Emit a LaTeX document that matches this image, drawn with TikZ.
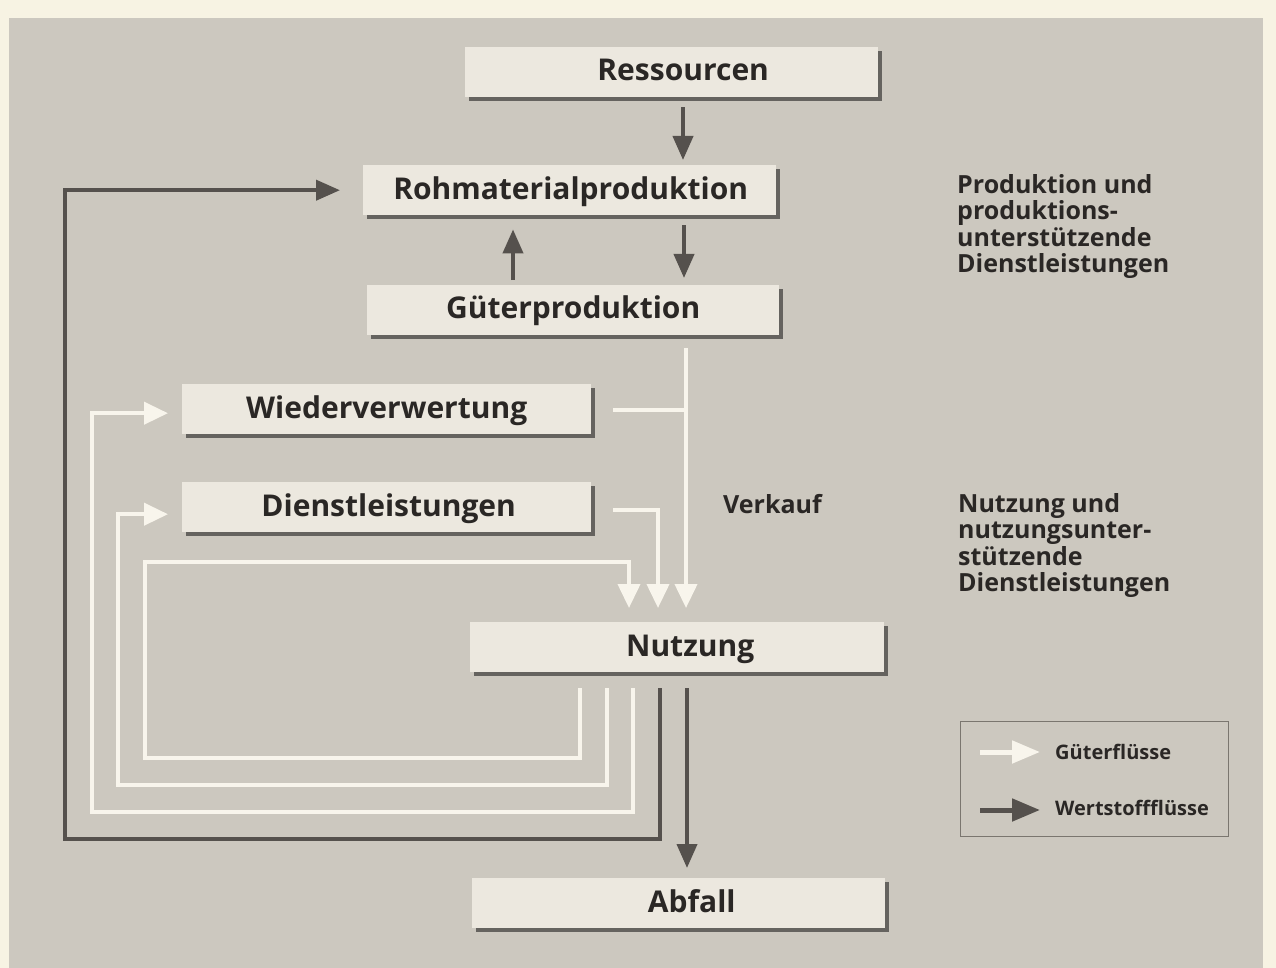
\documentclass[tikz,border=0pt]{standalone}
\usepackage{fontspec}
\setmainfont{Open Sans}
\usetikzlibrary{arrows.meta,shadows,calc}
\definecolor{cream}{HTML}{F7F3E3}
\definecolor{panel}{HTML}{CCC8BF}
\definecolor{boxfill}{HTML}{ECE8DF}
\definecolor{darkflow}{HTML}{55514D}
\definecolor{whiteflow}{HTML}{F8F5EC}
\definecolor{txt}{HTML}{2A2725}
\definecolor{legline}{HTML}{7A766F}
\begin{document}
\begin{tikzpicture}[x=1pt,y=-1pt,
 box/.style={fill=boxfill, inner sep=0pt, anchor=north west, minimum width=413pt, minimum height=50pt,
   drop shadow={shadow xshift=3.5pt,shadow yshift=-3.5pt,fill=black,opacity=0.5}},
 boxtext/.style={font=\bfseries\fontsize{30}{32}\selectfont, text=txt, inner sep=0pt, text height=21.5pt, text depth=0pt},
 side/.style={font=\bfseries\fontsize{25}{26.5}\selectfont, text=txt, align=left, inner sep=0pt, anchor=north west},
 legtext/.style={font=\bfseries\fontsize{20}{22}\selectfont, text=txt, inner sep=0pt, anchor=base west},
 dflow/.style={draw=darkflow, line width=4pt, -{Triangle[length=24pt,width=20pt]}},
 wflow/.style={draw=whiteflow, line width=4pt, -{Triangle[length=24pt,width=22pt]}},
 wline/.style={draw=whiteflow, line width=4pt},
]
\useasboundingbox (0,0) rectangle (1276,968);
\fill[cream] (0,0) rectangle (1276,968);
\fill[panel] (9,18) rectangle (1263,968);

% boxes
\node[box] (ress) at (465,47) {};
\node[box] (roh) at (363,165) {};
\node[box, minimum width=412pt] (guet) at (367,285) {};
\node[box, minimum width=409pt] (wied) at (182,384) {};
\node[box, minimum width=409pt] (dien) at (182,482) {};
\node[box, minimum width=414pt] (nutz) at (470,622) {};
\node[box] (abf) at (472,878) {};

\node[boxtext] (ress-t) at ($(ress.center)+(11.5,-2)$) {Ressourcen};
\node[boxtext] (roh-t) at ($(roh.center)+(1,-1)$) {Rohmaterialproduktion};
\node[boxtext] (guet-t) at ($(guet.center)+(0,-2)$) {Güterproduktion};
\node[boxtext] (wied-t) at ($(wied.center)+(0,-1)$) {Wiederverwertung};
\node[boxtext] (dien-t) at ($(dien.center)+(2,-1)$) {Dienstleistungen};
\node[boxtext] (nutz-t) at ($(nutz.center)+(13,-1)$) {Nutzung};
\node[boxtext] (abf-t) at ($(abf.center)+(13,-1)$) {Abfall};

% side texts
\node[side] (prod) at (957,174) {Produktion und\\produktions-\\unterstützende\\Dienstleistungen};
\node[side] (nutzdl) at (958,493) {Nutzung und\\nutzungsunter-\\stützende\\Dienstleistungen};
\node[font=\bfseries\fontsize{25}{26.5}\selectfont, text=txt, inner sep=0pt, anchor=base west] (verk) at (723,513) {Verkauf};

% x positions
\coordinate (c683) at (683,0);
\coordinate (c684) at (684,0);
\coordinate (c513) at (513,0);
\coordinate (c687) at (687,0);
\coordinate (c660) at (660,0);
\coordinate (c686) at (686,0);
\coordinate (c658) at (658,0);
\coordinate (c580) at (580,0);
\coordinate (c607) at (607,0);
\coordinate (c633) at (633,0);
\coordinate (dl) at (65,839);
\coordinate (i1) at (145,758);
\coordinate (i2) at (629,562);
\coordinate (l2) at (118,785);
\coordinate (l3) at (92,812);
\coordinate (junc) at (686,410);

% dark flows
\draw[dflow, shorten <=10pt, shorten >=5pt] (ress.south -| c683) -- (roh.north -| c683);
\draw[dflow, shorten <=10pt, shorten >=7pt] (roh.south -| c684) -- (guet.north -| c684);
\draw[dflow, shorten <=5pt, shorten >=14pt] (guet.north -| c513) -- (roh.south -| c513);
\draw[dflow, shorten <=16pt, shorten >=10pt] (nutz.south -| c687) -- (abf.north -| c687);
\draw[dflow, shorten <=16pt, shorten >=23pt] (nutz.south -| c660) |- (dl) |- (roh.west);

% white flows
\draw[wflow, shorten <=13pt, shorten >=14pt] (guet.south -| c686) -- (nutz.north -| c686);
\draw[wline, shorten <=22pt] (wied.east |- junc) -- (junc);
\draw[wflow, shorten <=22pt, shorten >=14pt] ([yshift=-3pt]dien.east) -| (nutz.north -| c658);
\draw[wflow, shorten <=16pt, shorten >=14pt] (nutz.south -| c580) |- (i1) |- (i2) -- (nutz.north -| i2);
\draw[wflow, shorten <=16pt, shorten >=14pt] (nutz.south -| c607) |- (l2) |- ([yshift=-7pt]dien.west);
\draw[wflow, shorten <=16pt, shorten >=14pt] (nutz.south -| c633) |- (l3) |- ([yshift=-4pt]wied.west);

% legend
\node[draw=legline, line width=1pt, inner sep=0pt, minimum width=268pt, minimum height=115pt, anchor=north west] (leg) at (960,721) {};
\coordinate (lw1) at (980,752);
\coordinate (lw2) at (1040,752);
\coordinate (ld1) at (980,810);
\coordinate (ld2) at (1040,810);
\draw[draw=whiteflow, line width=5pt, -{Triangle[length=28pt,width=22pt]}] (lw1) -- (lw2);
\draw[draw=darkflow, line width=5pt, -{Triangle[length=28pt,width=22pt]}] (ld1) -- (ld2);
\node[legtext] (lgt) at (1055,759) {Güterflüsse};
\node[legtext] (lwt) at (1055,815) {Wertstoffflüsse};
\end{tikzpicture}
\end{document}
